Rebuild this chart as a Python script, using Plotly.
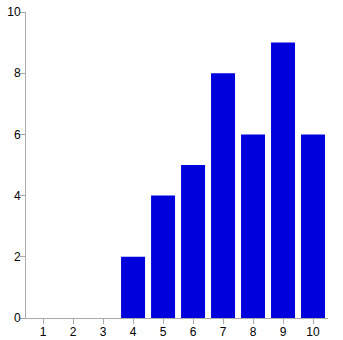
import plotly.graph_objects as go

categories = [1, 2, 3, 4, 5, 6, 7, 8, 9, 10]
values = [0, 0, 0, 2, 4, 5, 8, 6, 9, 6]

fig = go.Figure(go.Bar(x=categories, y=values, marker=dict(color="#0000dd", line=dict(width=0))))
axis_common = dict(showgrid=False, zeroline=False, showline=True, linecolor="#aaaaaa", linewidth=1,
                   ticks="outside", ticklen=5, tickcolor="#aaaaaa", automargin=False,
                   tickfont=dict(family="Liberation Sans, Arial", size=12, color="#000"))
fig.update_xaxes(range=[0.43, 10.5], tickvals=categories, ticklabelstandoff=-2, **axis_common)
fig.update_yaxes(range=[0, 10], dtick=2, ticklabelstandoff=-3, **axis_common)
fig.update_layout(width=343, height=340, margin=dict(l=26, r=15, t=12, b=22),
                  plot_bgcolor="white", paper_bgcolor="white", bargap=0.2, showlegend=False)
fig.write_html("out.html")
